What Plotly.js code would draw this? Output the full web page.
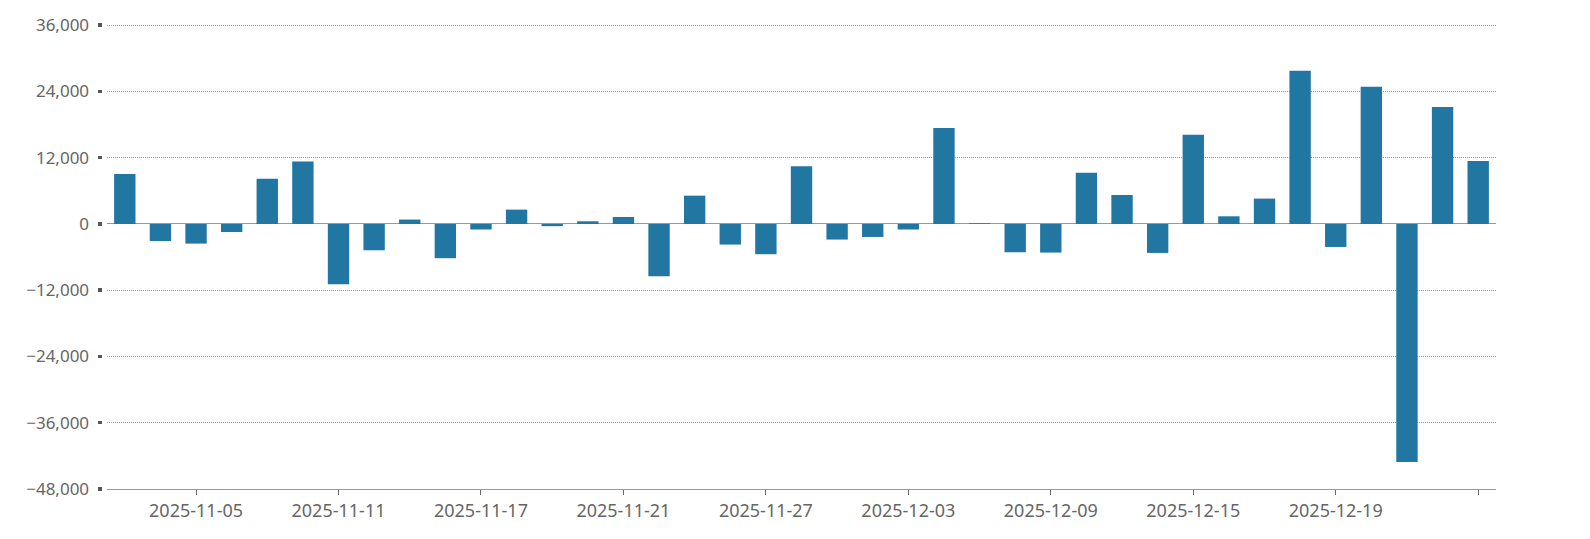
<!DOCTYPE html>
<html>
<head>
<meta charset="utf-8">
<script src="https://cdn.plot.ly/plotly-3.0.1.min.js"></script>
<style>
  html, body { margin: 0; padding: 0; background: #ffffff; }
  #chart { width: 1590px; height: 539px; }
</style>
</head>
<body>
<div id="chart"></div>
<script>
// Trading dates (categories)
const dates = [
  "2025-11-03","2025-11-04","2025-11-05","2025-11-06","2025-11-07",
  "2025-11-10","2025-11-11","2025-11-12","2025-11-13","2025-11-14",
  "2025-11-17","2025-11-18","2025-11-19","2025-11-20","2025-11-21",
  "2025-11-24","2025-11-25","2025-11-26","2025-11-27","2025-11-28",
  "2025-12-01","2025-12-02","2025-12-03","2025-12-04","2025-12-05",
  "2025-12-08","2025-12-09","2025-12-10","2025-12-11","2025-12-12",
  "2025-12-15","2025-12-16","2025-12-17","2025-12-18","2025-12-19",
  "2025-12-22","2025-12-23","2025-12-24","2025-12-25"
];

// Series values
const values = [
  9050, -3080, -3550, -1450, 8200,
  11300, -10900, -4760, 800, -6200,
  -1000, 2600, -400, 490, 1270,
  -9460, 5130, -3730, -5480, 10440,
  -2820, -2350, -1000, 17370, 130,
  -5120, -5180, 9300, 5250, -5240,
  16170, 1390, 4600, 27750, -4160,
  24860, -43100, 21170, 11400
];

// X tick positions and labels (last tick drawn without label)
const xTickVals = [
  "2025-11-05","2025-11-11","2025-11-17","2025-11-21","2025-11-27",
  "2025-12-03","2025-12-09","2025-12-15","2025-12-19","2025-12-25"
];
const xTickText = [
  "2025-11-05","2025-11-11","2025-11-17","2025-11-21","2025-11-27",
  "2025-12-03","2025-12-09","2025-12-15","2025-12-19",""
];

// Y ticks
const yTickVals = [-48000, -36000, -24000, -12000, 0, 12000, 24000, 36000];

const W = 1590, H = 539;
const ml = 97, mr = 94, mt = 23, mb = 50;
const plotW = W - ml - mr;
const xStart = (107 - ml) / plotW;
const yPos = (101.5 - ml) / plotW;

const trace = {
  type: "bar",
  x: dates,
  y: values,
  marker: { color: "#2176a2" },
  hoverinfo: "x+y"
};

const layout = {
  width: W,
  height: H,
  margin: { l: ml, r: mr, t: mt, b: mb, pad: 0 },
  paper_bgcolor: "#ffffff",
  plot_bgcolor: "#ffffff",
  showlegend: false,
  bargap: 0.4,
  font: { family: "Noto Sans, Open Sans, sans-serif", color: "#666666" },
  xaxis: {
    type: "category",
    domain: [xStart, 1],
    range: [-0.5, 38.5],
    tickmode: "array",
    tickvals: xTickVals,
    ticktext: xTickText,
    ticks: "outside",
    ticklen: 5,
    tickwidth: 1,
    tickcolor: "#666666",
    showline: true,
    linecolor: "#999999",
    linewidth: 1,
    showgrid: false,
    zeroline: false,
    tickfont: { size: 18, color: "#666666" },
    fixedrange: true
  },
  yaxis: {
    anchor: "free",
    position: yPos,
    range: [-48000, 36400],
    tickmode: "array",
    tickvals: yTickVals,
    tickformat: ",d",
    ticks: "outside",
    ticklen: 4,
    tickwidth: 3.5,
    tickcolor: "#555555",
    ticklabelstandoff: 5,
    showline: false,
    showgrid: true,
    gridcolor: "#999999",
    griddash: "1px,1px",
    gridwidth: 1,
    zeroline: true,
    zerolinecolor: "#999999",
    zerolinewidth: 1,
    tickfont: { size: 17, color: "#666666" },
    fixedrange: true
  }
};

Plotly.newPlot("chart", [trace], layout, { displayModeBar: false, staticPlot: true });
</script>
</body>
</html>
